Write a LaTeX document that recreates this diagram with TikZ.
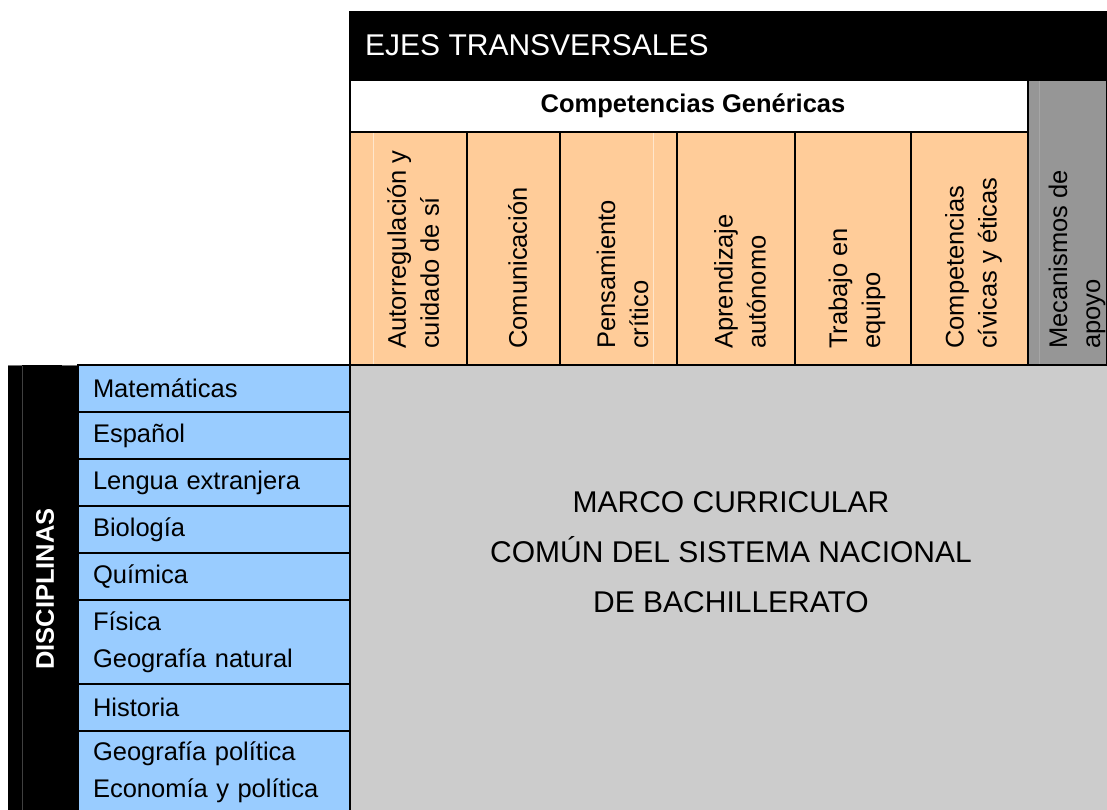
\documentclass[tikz,border=0pt]{standalone}
\usepackage{fontspec}
\setmainfont{Liberation Sans}
\definecolor{orangec}{HTML}{FFCC99}
\definecolor{bluec}{HTML}{99CCFF}
\definecolor{grayc}{HTML}{CCCCCC}
\definecolor{mecc}{HTML}{969696}
\begin{document}
\begin{tikzpicture}[x=1pt,y=-1pt,
  box/.style={inner sep=0pt,outer sep=0pt,draw=black,line width=1.6pt},
  ocol/.style={box,fill=orangec,minimum height=233},
  brow/.style={box,fill=bluec,minimum width=272,text width=242,inner xsep=15pt,inner ysep=0pt,align=left,
    font=\fontsize{25.5}{37}\selectfont},
  vtext/.style={rotate=90,anchor=west,inner sep=0pt,align=left,font=\fontsize{25.5}{33}\selectfont},
  faint/.style={line width=0.8pt}]
\useasboundingbox (0,0) rectangle (1107,810);
\fill[white] (0,0) rectangle (1107,810);
% main gray area
\node[inner sep=0pt,outer sep=0pt,fill=grayc,minimum width=757,minimum height=447] (main) at (728.5,588.5) {};
\node[inner sep=0pt,align=center,font=\fontsize{30}{50}\selectfont] (maintxt) at (731,552)
  {MARCO CURRICULAR\\COMÚN DEL SISTEMA NACIONAL\\DE BACHILLERATO};
% header
\node[inner sep=0pt,outer sep=0pt,fill=black,minimum width=758,minimum height=69] (hdr) at (728,45.5) {};
\node[anchor=west,inner sep=0pt,text=white,font=\fontsize{30}{36}\selectfont] (hdrtxt) at (365,45.5) {EJES TRANSVERSALES};
% mecanismos
\node[box,fill=mecc,minimum width=79,minimum height=285] (mec) at (1067.5,222.5) {};
\draw[faint,draw=mecc!85!white] (1039,81) -- (1039,364);
% white row
\node[box,fill=white,minimum width=678,minimum height=52] (comp) at (689,106) {};
\node[inner sep=0pt,font=\fontsize{25.5}{30}\selectfont\bfseries] (comptxt) at (693,106) {Competencias Genéricas};
% orange columns
\node[ocol,minimum width=117] (c1) at (408.5,248.5) {};
\node[ocol,minimum width=93]  (c2) at (513.5,248.5) {};
\node[ocol,minimum width=117] (c3) at (618.5,248.5) {};
\node[ocol,minimum width=118] (c4) at (736,248.5) {};
\node[ocol,minimum width=116] (c5) at (853,248.5) {};
\node[ocol,minimum width=117] (c6) at (969.5,248.5) {};
\draw[faint,draw=orangec!50!white] (373,133) -- (373,364);
\draw[faint,draw=orangec!50!white] (653,133) -- (653,364);
\node[vtext] (t1) at (413,349) {Autorregulación y\\cuidado de sí};
\node[vtext] (t2) at (517.5,349) {Comunicación};
\node[vtext] (t3) at (622.5,349) {Pensamiento\\crítico};
\node[vtext] (t4) at (740,349) {Aprendizaje\\autónomo};
\node[vtext] (t5) at (857,349) {Trabajo en\\equipo};
\node[vtext] (t6) at (973.5,349) {Competencias\\cívicas y éticas};
\node[vtext] (t7) at (1077,349) {Mecanismos de\\apoyo};
% disciplinas strip
\node[inner sep=0pt,outer sep=0pt,fill=black,minimum width=70,minimum height=447] (strip) at (43,588.5) {};
\draw[faint,draw=black!75] (22,366) -- (22,810);
\draw[faint,draw=black!55] (8,365.5) -- (22,365.5) (62,365.5) -- (77,365.5);
\node[rotate=90,inner sep=0pt,text=white,font=\fontsize{25.5}{30}\selectfont\bfseries] (disc) at (45,589) {DISCIPLINAS};
% blue rows
\node[brow,minimum height=47] (r1) at (214,388.5) {Matemáticas};
\node[brow,minimum height=47] (r2) at (214,435.5) {Español};
\node[brow,minimum height=47] (r3) at (214,482.5) {Lengua extranjera};
\node[brow,minimum height=47] (r4) at (214,529.5) {Biología};
\node[brow,minimum height=47] (r5) at (214,576.5) {Química};
\node[brow,minimum height=84] (r6) at (214,642) {Física\\Geografía natural};
\node[brow,minimum height=47] (r7) at (214,707.5) {Historia};
\node[brow,minimum height=83] (r8) at (214,772.5) {Geografía política\\Economía y política};
\end{tikzpicture}
\end{document}
